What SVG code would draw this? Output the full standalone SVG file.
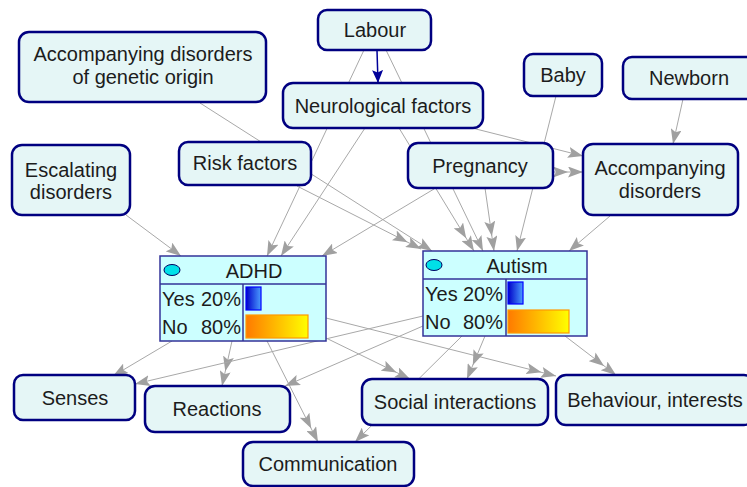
<svg xmlns="http://www.w3.org/2000/svg" width="747" height="487" viewBox="0 0 747 487">
<style>
.n rect{fill:#e5f6f6;stroke:#000080;stroke-width:2.5}
.t{font-family:"Liberation Sans",Arial,sans-serif;font-size:20px;fill:#1c1c1c;text-anchor:middle}
.tl{font-family:"Liberation Sans",Arial,sans-serif;font-size:20px;fill:#1c1c1c}
.tr{font-family:"Liberation Sans",Arial,sans-serif;font-size:20px;fill:#1c1c1c;text-anchor:end}
.bn .box{fill:#ccffff;stroke:#333399;stroke-width:1.5}
.bn line{stroke:#333399;stroke-width:1.5}
.bn ellipse{fill:#00e0e8;stroke:#000060;stroke-width:1}
.bb{fill:url(#bg);stroke:#0000ff;stroke-width:1.2}
.ob{fill:url(#og);stroke:#ff9900;stroke-width:1.2}
#edges line{stroke:#a8a8a8;stroke-width:1;fill:none}
#edges .s{marker-end:url(#ah)}
#edges .d{marker-end:url(#ah2)}
#edges line.blue{stroke:#000099;stroke-width:1.5;marker-end:url(#ahb)}
</style>
<defs>
<linearGradient id="bg" x1="0" y1="0" x2="1" y2="0"><stop offset="0" stop-color="#0000c8"/><stop offset="1" stop-color="#4a9cff"/></linearGradient>
<linearGradient id="og" x1="0" y1="0" x2="1" y2="0"><stop offset="0" stop-color="#ff7a00"/><stop offset="1" stop-color="#ffff00"/></linearGradient>
<marker id="ah" viewBox="0 0 15 11" refX="15" refY="5.5" markerWidth="15" markerHeight="11" orient="auto" markerUnits="userSpaceOnUse"><path d="M0,0 L15,5.5 L0,11 L3,5.5 z" fill="#a0a0a0"/></marker>
<marker id="ah2" viewBox="-15 0 30 11" refX="15" refY="5.5" markerWidth="30" markerHeight="11" orient="auto" markerUnits="userSpaceOnUse"><path d="M0,0 L15,5.5 L0,11 L3,5.5 z M-15,0 L0,5.5 L-15,11 L-12,5.5 z" fill="#a0a0a0"/></marker>
<marker id="ahb" viewBox="0 0 13 11" refX="13" refY="5.5" markerWidth="13" markerHeight="11" orient="auto" markerUnits="userSpaceOnUse"><path d="M0,0 L13,5.5 L0,11 L2.5,5.5 z" fill="#000099"/></marker>
</defs>
<rect width="747" height="487" fill="#ffffff"/>
<g id="edges">
<line class="blue" x1="377" y1="50" x2="378" y2="83"/>
<line class="s" x1="364" y1="50" x2="267" y2="256"/>
<line class="s" x1="365" y1="128" x2="281" y2="256"/>
<line class="s" x1="434" y1="189" x2="322" y2="256"/>
<line class="s" x1="126" y1="215" x2="181" y2="256"/>
<line class="s" x1="200" y1="103" x2="432" y2="251"/>
<line class="d" x1="297" y1="186" x2="421" y2="249"/>
<line class="d" x1="399" y1="128" x2="474" y2="251"/>
<line class="s" x1="386" y1="50" x2="483" y2="251"/>
<line class="d" x1="485" y1="188" x2="494" y2="251"/>
<line class="s" x1="556" y1="96" x2="517" y2="251"/>
<line class="s" x1="610" y1="216" x2="569" y2="251"/>
<line class="s" x1="472" y1="128" x2="583" y2="156"/>
<line class="d" x1="553" y1="172" x2="583" y2="172"/>
<line class="s" x1="683" y1="99" x2="673" y2="144"/>
<line class="s" x1="172" y1="341" x2="113" y2="376"/>
<line class="d" x1="232" y1="341" x2="222" y2="386"/>
<line class="d" x1="267" y1="341" x2="318" y2="442"/>
<line class="d" x1="326" y1="338" x2="410" y2="379"/>
<line class="d" x1="326" y1="318" x2="556" y2="376"/>
<line class="s" x1="423" y1="316" x2="135" y2="384"/>
<line class="s" x1="423" y1="326" x2="285" y2="386"/>
<line class="s" x1="462" y1="336" x2="355" y2="442"/>
<line class="d" x1="485" y1="336" x2="467" y2="379"/>
<line class="d" x1="565" y1="336" x2="616" y2="375"/>
</g>
<g id="labour" class="n"><rect x="318" y="10" width="113" height="40" rx="9"/><text class="t" x="375" y="37">Labour</text></g>
<g id="genetic" class="n"><rect x="19" y="32" width="247" height="70" rx="10"/><text class="t" x="143" y="61">Accompanying disorders</text><text class="t" x="143" y="84">of genetic origin</text></g>
<g id="neurological" class="n"><rect x="283" y="83" width="200" height="45" rx="10"/><text class="t" x="383" y="113">Neurological factors</text></g>
<g id="risk" class="n"><rect x="179" y="142" width="132" height="43" rx="9"/><text class="t" x="245" y="170">Risk factors</text></g>
<g id="escalating" class="n"><rect x="12" y="145" width="118" height="70" rx="10"/><text class="t" x="71" y="177">Escalating</text><text class="t" x="71" y="199">disorders</text></g>
<g id="baby" class="n"><rect x="524" y="54" width="78" height="42" rx="9"/><text class="t" x="563" y="82">Baby</text></g>
<g id="newborn" class="n"><rect x="623" y="57" width="132" height="42" rx="9"/><text class="t" x="689" y="85">Newborn</text></g>
<g id="pregnancy" class="n"><rect x="408" y="143" width="145" height="45" rx="10"/><text class="t" x="480" y="173">Pregnancy</text></g>
<g id="accompanying" class="n"><rect x="583" y="144" width="155" height="71" rx="10"/><text class="t" x="660" y="175">Accompanying</text><text class="t" x="660" y="198">disorders</text></g>
<g id="adhd" class="bn">
<rect class="box" x="160" y="256" width="166" height="85"/>
<line x1="160" y1="284" x2="326" y2="284"/>
<line x1="243" y1="284" x2="243" y2="341"/>
<ellipse cx="172" cy="270" rx="8" ry="5.5"/>
<text class="t" x="254" y="278">ADHD</text>
<text class="tl" x="162" y="306">Yes</text><text class="tr" x="241" y="306">20%</text>
<text class="tl" x="162" y="334">No</text><text class="tr" x="241" y="334">80%</text>
<rect class="bb" x="246" y="287" width="15" height="23"/>
<rect class="ob" x="246" y="315" width="62" height="23"/>
</g>
<g id="autism" class="bn">
<rect class="box" x="423" y="251" width="164" height="85"/>
<line x1="423" y1="279" x2="587" y2="279"/>
<line x1="506" y1="279" x2="506" y2="336"/>
<ellipse cx="434" cy="265" rx="8" ry="5.5"/>
<text class="t" x="517" y="273">Autism</text>
<text class="tl" x="425" y="301">Yes</text><text class="tr" x="503" y="301">20%</text>
<text class="tl" x="425" y="329">No</text><text class="tr" x="503" y="329">80%</text>
<rect class="bb" x="508" y="282" width="15" height="22"/>
<rect class="ob" x="508" y="310" width="61" height="23"/>
</g>
<g id="senses" class="n"><rect x="14" y="375" width="121" height="45" rx="9"/><text class="t" x="75" y="405">Senses</text></g>
<g id="reactions" class="n"><rect x="145" y="386" width="145" height="46" rx="10"/><text class="t" x="217" y="416">Reactions</text></g>
<g id="communication" class="n"><rect x="243" y="442" width="171" height="44" rx="10"/><text class="t" x="328" y="471">Communication</text></g>
<g id="social" class="n"><rect x="362" y="379" width="186" height="46" rx="10"/><text class="t" x="455" y="409">Social interactions</text></g>
<g id="behaviour" class="n"><rect x="556" y="375" width="198" height="50" rx="10"/><text class="t" x="655" y="407">Behaviour, interests</text></g>
</svg>
